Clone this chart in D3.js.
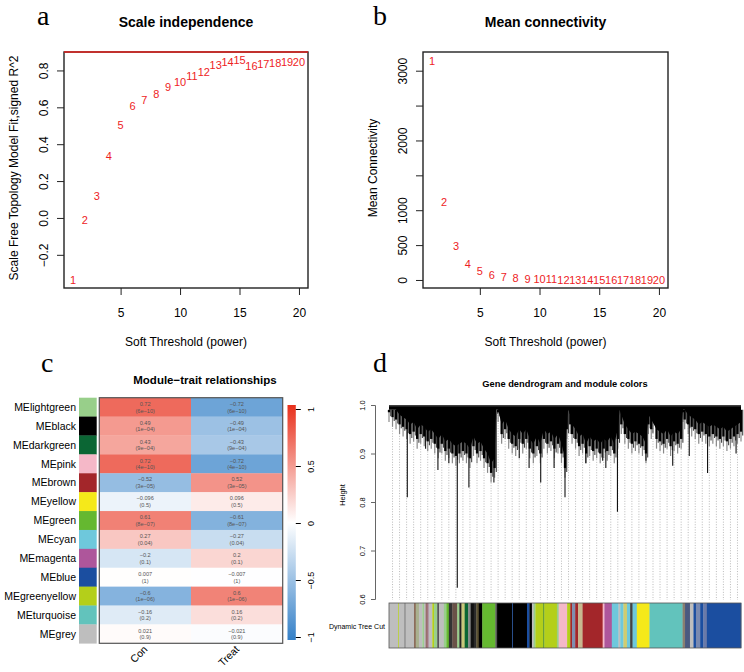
<!DOCTYPE html>
<html>
<head>
<meta charset="utf-8">
<script src="https://cdn.jsdelivr.net/npm/d3@7"></script>
<style>
  body { margin: 0; background: #fff; }
  text { font-family: "Liberation Sans", Arial, sans-serif; }
  text.letter { font-family: "Liberation Serif", "Times New Roman", serif; }
</style>
</head>
<body>
<svg id="fig" width="744" height="672"></svg>
<script>
// ---- data: soft threshold scan ----
const powers = [1,2,3,4,5,6,7,8,9,10,11,12,13,14,15,16,17,18,19,20];
const sftFit = [-0.335,-0.01,0.117,0.335,0.505,0.605,0.637,0.672,0.712,0.737,0.768,0.791,0.829,0.848,0.855,0.822,0.833,0.842,0.845,0.845];
const meanK = [3142,1123,488,230,133,72,47,24,15,10,8,6,5,4,3,3,2,2,2,1];
const powerTicks = [5,10,15,20];
const fitTicks = [-0.2,0,0.2,0.4,0.6,0.8];
const kTicks = [0,500,1000,1500,2000,2500,3000];
const kTickLabels = ["0","500","1000","","2000","","3000"];
const fitCut = 0.9;

// ---- data: module-trait correlations ----
const modules = ["MElightgreen","MEblack","MEdarkgreen","MEpink","MEbrown","MEyellow","MEgreen","MEcyan","MEmagenta","MEblue","MEgreenyellow","MEturquoise","MEgrey"];
const moduleColors = ["#98cf8a","#000000","#0b6634","#f5b8c8","#a3262a","#f5e91a","#65b830","#6ec8dc","#ae569b","#1b4ea0","#b4cf1a","#62c3bc","#bebebe"];
const traits = ["Con","Treat"];
const corCon = [0.72,0.49,0.43,0.72,-0.52,-0.096,0.61,0.27,-0.2,0.007,-0.6,-0.16,0.021];
const corTreat = [-0.72,-0.49,-0.43,-0.72,0.52,0.096,-0.61,-0.27,0.2,-0.007,0.6,0.16,-0.021];
const pCon = ["6e-10","1e-04","9e-04","4e-10","3e-05","0.5","8e-07","0.04","0.1","1","1e-06","0.2","0.9"];
const pTreat = ["6e-10","1e-04","9e-04","4e-10","3e-05","0.5","8e-07","0.04","0.1","1","1e-06","0.2","0.9"];
const legendTicks = [-1,-0.5,0,0.5,1];

// ---- data: dendrogram (leaf order 0..1000) ----
const dendroPos = [0,10,20,30,40,50,60,70,80,90,100,110,120,130,140,150,160,170,180,190,200,210,220,230,240,250,260,270,280,290,300,304,310,320,330,340,350,360,370,380,390,400,410,420,430,440,450,460,470,480,490,500,505,509,515,520,530,540,550,560,570,580,590,600,610,620,630,640,650,655,660,670,680,690,700,710,720,730,737,745,760,770,780,790,800,810,820,830,835,840,850,860,870,880,890,900,910,920,930,940,950,960,970,980,990,1000];
const dendroLow = [0.985,0.975,0.97,0.96,0.955,0.95,0.94,0.945,0.93,0.94,0.935,0.925,0.93,0.92,0.91,0.92,0.905,0.91,0.9,0.895,0.9,0.905,0.9,0.89,0.915,0.9,0.905,0.89,0.88,0.86,0.87,0.99,0.985,0.94,0.95,0.93,0.92,0.915,0.93,0.92,0.93,0.91,0.9,0.915,0.9,0.93,0.92,0.925,0.91,0.92,0.9,0.87,0.95,0.99,0.96,0.94,0.93,0.915,0.92,0.9,0.915,0.905,0.91,0.9,0.91,0.905,0.915,0.9,0.93,0.99,0.96,0.94,0.93,0.92,0.925,0.92,0.915,0.9,0.96,0.95,0.93,0.925,0.92,0.93,0.915,0.925,0.92,0.93,0.985,0.97,0.96,0.955,0.95,0.94,0.945,0.94,0.935,0.94,0.935,0.93,0.935,0.925,0.93,0.935,0.94,0.945];
const spikePos = [52,104,139,170,194,227,298,370,398,431,469,500,559,607,616,649,730,806,853,905,986];
const spikeLow = [0.81,0.91,0.866,0.88,0.623,0.83,0.84,0.89,0.87,0.84,0.87,0.81,0.88,0.885,0.87,0.78,0.885,0.875,0.895,0.86,0.9];
const heightTicks = [0.6,0.7,0.8,0.9,1.0];
const modStart = [0,26,28,44,47,71,76,85,95,99,104,110,113,123,128,137,142,156,163,170,180,194,200,206,215,225,232,241,248,255,265,302,307,350,352,392,399,406,411,416,439,441,477,482,506,515,520,529,537,550,607,612,633,652,657,666,676,685,692,704,740,834,841,855,865,872,884,893,903];
const modColor = ["#bebebe","#b4cf1a","#bebebe","#6e6e6e","#bebebe","#8c6d5c","#a9b08f","#bebebe","#98cf8a","#bebebe",
  "#9a6e6e","#b08aa0","#bebebe","#b4cf1a","#98cf8a","#555555","#bebebe","#98cf8a","#65b830","#333333",
  "#6a5248","#98cf8a","#222222","#c8c87a","#0b6634","#888888","#111111","#2a2a2a","#5a5030","#000000",
  "#65b830","#555555","#000000","#1b4ea0","#000000","#1b4ea0","#000000","#bebebe","#98cf8a","#b4cf1a",
  "#0b6634","#b4cf1a","#98cf8a","#f5b8c8","#b4cf1a","#a3262a","#7f8fb0","#a3262a","#c8b890","#a3262a",
  "#f5b8c8","#ae569b","#6ec8dc","#bebebe","#6ec8dc","#d0cc70","#6ec8dc","#444444","#6ec8dc","#f5e91a",
  "#62c3bc","#8a7f70","#4a5a80","#bebebe","#1b4ea0","#7a8ab0","#1b4ea0","#6a7aa8","#1b4ea0"];
const leafCount = 1000;

const svg = d3.select("#fig");

function panelLetter(x, y, s) {
  svg.append("text").attr("class", "letter").attr("x", x).attr("y", y)
    .attr("font-size", 28).text(s);
}

// rotated y tick labels, R style (parallel to axis)
function rotateYLabels(g, dist) {
  g.selectAll(".tick text")
    .attr("transform", "rotate(-90)")
    .attr("text-anchor", "middle")
    .attr("x", 0).attr("dy", 0).attr("y", -dist);
}

function scatterPanel(opt) {
  const g = svg.append("g");
  const x = d3.scaleLinear().domain([0.24, 20.76]).range([opt.left, opt.right]);
  const y = d3.scaleLinear().domain(opt.ydom).range([288, 52]);

  g.append("text").attr("x", (opt.left + opt.right) / 2).attr("y", 26.5)
    .attr("text-anchor", "middle").attr("font-weight", "bold").attr("font-size", 14)
    .text(opt.title);

  g.append("g").attr("transform", "translate(0,288)")
    .call(d3.axisBottom(x).tickValues(powerTicks).tickSize(7).tickPadding(13))
    .call(a => a.select(".domain").remove())
    .attr("font-size", 12).attr("font-family", null)
    .call(a => a.selectAll("line").attr("stroke", "#222"));

  g.append("g").attr("transform", `translate(${opt.left},0)`)
    .call(d3.axisLeft(y).tickValues(opt.ticks).tickSize(7)
      .tickFormat((d, i) => opt.tickLabels ? opt.tickLabels[i] : d3.format(".1f")(d)))
    .call(a => a.select(".domain").remove())
    .attr("font-size", 12).attr("font-family", null)
    .call(a => a.selectAll("line").attr("stroke", "#222"))
    .call(a => rotateYLabels(a, 16));

  g.append("g").selectAll("text")
    .data(powers)
    .join("text")
      .attr("x", d => x(d))
      .attr("y", (d, i) => y(opt.values[i]))
      .attr("dy", "0.36em")
      .attr("text-anchor", "middle")
      .attr("font-size", 11)
      .attr("fill", "#ee1c25")
      .text(d => d);

  g.append("rect").attr("x", opt.left).attr("y", 52)
    .attr("width", opt.right - opt.left).attr("height", 236)
    .attr("fill", "none").attr("stroke", "#222").attr("stroke-width", 1.4);

  if (opt.cut != null) {
    g.append("line").attr("x1", opt.left).attr("x2", opt.right)
      .attr("y1", y(opt.cut)).attr("y2", y(opt.cut))
      .attr("stroke", "#e0201c").attr("stroke-width", 1.6);
  }

  g.append("text").attr("x", (opt.left + opt.right) / 2).attr("y", 346)
    .attr("text-anchor", "middle").attr("font-size", 12)
    .text("Soft Threshold (power)");

  g.append("text").attr("transform", `translate(${opt.ylabX},168) rotate(-90)`)
    .attr("text-anchor", "middle").attr("font-size", 12)
    .text(opt.ylab);
}

panelLetter(37, 25, "a");
scatterPanel({ left: 64, right: 308, ydom: [-0.38, 0.9], ticks: fitTicks, values: sftFit,
  title: "Scale independence", cut: fitCut, ylabX: 17.5,
  ylab: "Scale Free Topology Model Fit,signed R^2" });

panelLetter(373, 25, "b");
scatterPanel({ left: 423, right: 668, ydom: [-115, 3268], ticks: kTicks, tickLabels: kTickLabels,
  values: meanK, title: "Mean connectivity", cut: null, ylabX: 377,
  ylab: "Mean Connectivity" });

// ---------- panel c: module-trait heatmap ----------
panelLetter(41, 372, "c");
const yc = d3.scaleBand().domain(modules).range([397.7, 643.3]);
const xc = d3.scaleBand().domain(traits).range([99.3, 282.7]);
const corColor = d3.scaleLinear().domain([-1, 0, 1]).range(["#3480c8", "#ffffff", "#e8301c"]);

svg.append("text").attr("x", 205).attr("y", 384).attr("text-anchor", "middle")
  .attr("font-weight", "bold").attr("font-size", 11.5).text("Module\u2212trait relationships");

svg.append("g").selectAll("text")
  .data(modules).join("text")
    .attr("x", 76).attr("y", d => yc(d) + yc.bandwidth() / 2).attr("dy", "0.36em")
    .attr("text-anchor", "end").attr("font-size", 10.5).text(d => d);

svg.append("g").selectAll("rect")
  .data(modules).join("rect")
    .attr("x", 79).attr("width", 17.7)
    .attr("y", d => yc(d)).attr("height", yc.bandwidth() + 0.3)
    .attr("fill", (d, i) => moduleColors[i]);

const cells = [];
modules.forEach((m, i) => {
  cells.push({ m, t: "Con", r: corCon[i], p: pCon[i] });
  cells.push({ m, t: "Treat", r: corTreat[i], p: pTreat[i] });
});
const fmtR = r => String(r).replace("-", "\u2212");
const cg = svg.append("g");
cg.selectAll("rect").data(cells).join("rect")
  .attr("x", d => xc(d.t)).attr("y", d => yc(d.m))
  .attr("width", xc.bandwidth() + 0.3).attr("height", yc.bandwidth() + 0.3)
  .attr("fill", d => corColor(d.r));
cg.selectAll("text.v").data(cells).join("text").attr("class", "v")
  .attr("x", d => xc(d.t) + xc.bandwidth() / 2)
  .attr("y", d => yc(d.m) + yc.bandwidth() / 2 - 1.3)
  .attr("text-anchor", "middle").attr("font-size", 5.6).attr("fill", "#555")
  .text(d => fmtR(d.r));
cg.selectAll("text.p").data(cells).join("text").attr("class", "p")
  .attr("x", d => xc(d.t) + xc.bandwidth() / 2)
  .attr("y", d => yc(d.m) + yc.bandwidth() / 2 + 5.4)
  .attr("text-anchor", "middle").attr("font-size", 5.6).attr("fill", "#555")
  .text(d => "(" + d.p.replace("-", "\u2212") + ")");
svg.append("rect").attr("x", 99.3).attr("y", 397.7).attr("width", 183.4).attr("height", 245.6)
  .attr("fill", "none").attr("stroke", "#555").attr("stroke-width", 1.2);

svg.append("g").selectAll("text")
  .data(traits).join("text")
    .attr("transform", d => `translate(${xc(d) + xc.bandwidth() / 2 + 3},${650}) rotate(-45)`)
    .attr("text-anchor", "end").attr("font-size", 10.5).text(d => d);

// colour legend
const defs = svg.append("defs");
const grad = defs.append("linearGradient").attr("id", "corGrad")
  .attr("x1", 0).attr("x2", 0).attr("y1", 1).attr("y2", 0);
corColor.domain().forEach((v, i) => {
  grad.append("stop").attr("offset", (v + 1) / 2).attr("stop-color", corColor.range()[i]);
});
const yLeg = d3.scaleLinear().domain([-1, 1]).range([637, 409]);
svg.append("rect").attr("x", 287.5).attr("y", 405).attr("width", 8.3).attr("height", 235)
  .attr("fill", "url(#corGrad)");
svg.append("g").attr("transform", "translate(295.8,0)")
  .call(d3.axisRight(yLeg).tickValues(legendTicks).tickSize(5).tickFormat(d => fmtR(d)))
  .call(a => a.select(".domain").remove())
  .attr("font-size", 9).attr("font-family", null)
  .call(a => a.selectAll(".tick text").attr("transform", "rotate(-90)").attr("text-anchor", "middle")
    .attr("x", 0).attr("dy", 0).attr("y", 18));

// ---------- panel d: dendrogram and module colours ----------
panelLetter(373, 372, "d");
svg.append("text").attr("x", 565).attr("y", 387).attr("text-anchor", "middle")
  .attr("font-weight", "bold").attr("font-size", 9.3).text("Gene dendrogram and module colors");

const xd = d3.scaleLinear().domain([0, leafCount]).range([389, 741]);
const yd = d3.scaleLinear().domain([0.6, 1.0]).range([599, 405]);

// guide lines
const guides = d3.range(50).map(i => (i + 0.5) * leafCount / 50);
svg.append("g").selectAll("line").data(guides).join("line")
  .attr("x1", d => xd(d)).attr("x2", d => xd(d))
  .attr("y1", yd(0.99)).attr("y2", 600)
  .attr("stroke", "#a8a8a8").attr("stroke-width", 0.8).attr("stroke-dasharray", "1 1.6");

const dendro = svg.append("g");
// grey fringe hanging below each branch
dendro.selectAll("line.fr").data(dendroLow).join("line").attr("class", "fr")
  .attr("x1", (d, i) => xd(dendroPos[i])).attr("x2", (d, i) => xd(dendroPos[i]))
  .attr("y1", yd(0.99)).attr("y2", d => yd(Math.max(d - 0.02, 0.6)))
  .attr("stroke", "#8a8a8a").attr("stroke-width", 1.2);
dendro.selectAll("line.fr2").data(dendroLow).join("line").attr("class", "fr2")
  .attr("x1", (d, i) => xd(dendroPos[i]) + 1.7).attr("x2", (d, i) => xd(dendroPos[i]) + 1.7)
  .attr("y1", yd(0.99)).attr("y2", d => yd(Math.max(d - 0.008, 0.6)))
  .attr("stroke", "#444").attr("stroke-width", 1.1);
// spikes that reach deep
dendro.selectAll("line.sp").data(spikeLow).join("line").attr("class", "sp")
  .attr("x1", (d, i) => xd(spikePos[i])).attr("x2", (d, i) => xd(spikePos[i]))
  .attr("y1", yd(0.99)).attr("y2", d => yd(d))
  .attr("stroke", "#111").attr("stroke-width", 1.1);
// solid core of the tree
const core = d3.area()
  .x((d, i) => xd(dendroPos[i])).y0(yd(0.997)).y1(d => yd(Math.min(d + 0.02, 0.99)));
dendro.append("path").datum(dendroLow).attr("d", core).attr("fill", "#000");
// branch hairs reaching the profile
dendro.selectAll("line.br").data(dendroLow).join("line").attr("class", "br")
  .attr("x1", (d, i) => xd(dendroPos[i])).attr("x2", (d, i) => xd(dendroPos[i]))
  .attr("y1", yd(0.99)).attr("y2", d => yd(d))
  .attr("stroke", "#000").attr("stroke-width", 2.3);
dendro.append("line").attr("x1", xd(0)).attr("x2", xd(leafCount))
  .attr("y1", yd(0.998)).attr("y2", yd(0.998)).attr("stroke", "#000").attr("stroke-width", 1.5);

// height axis
svg.append("g").attr("transform", "translate(375,0)")
  .call(d3.axisLeft(yd).tickValues(heightTicks).tickSize(4).tickFormat(d3.format(".1f")))
  .attr("font-size", 7.5).attr("font-family", null)
  .call(a => a.selectAll("line, path").attr("stroke", "#666"))
  .call(a => rotateYLabels(a, 10));
svg.append("text").attr("transform", "translate(345,495) rotate(-90)")
  .attr("text-anchor", "middle").attr("font-size", 7.5).text("Height");

// module colour bar
const segs = modStart.map((s, i) => ({ s, e: i + 1 < modStart.length ? modStart[i + 1] : leafCount, c: modColor[i] }));
svg.append("g").selectAll("rect").data(segs).join("rect")
  .attr("x", d => xd(d.s)).attr("width", d => xd(d.e) - xd(d.s) + 0.3)
  .attr("y", 603).attr("height", 45)
  .attr("fill", d => d.c);
svg.append("rect").attr("x", xd(0)).attr("y", 603).attr("width", xd(leafCount) - xd(0)).attr("height", 45)
  .attr("fill", "none").attr("stroke", "#555").attr("stroke-width", 0.8);
svg.append("text").attr("x", 385).attr("y", 629).attr("text-anchor", "end")
  .attr("font-size", 7).text("Dynamic Tree Cut");
</script>
</body>
</html>
